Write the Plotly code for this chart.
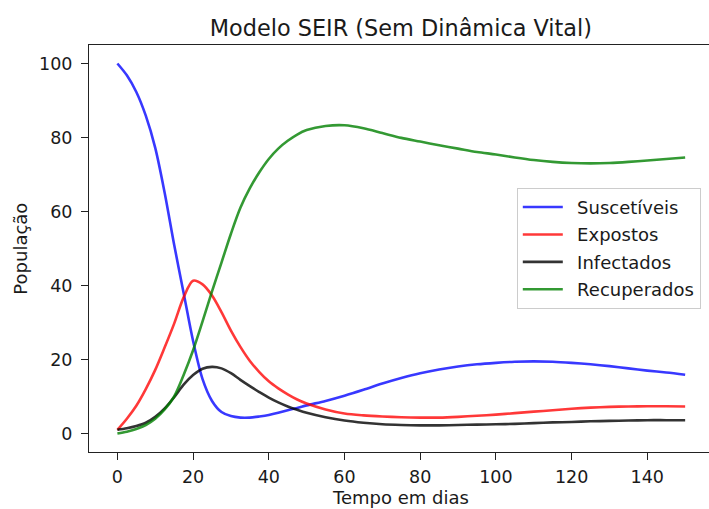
import plotly.graph_objects as go

# Data
dias = [0, 2.5, 5, 7.5, 10, 12.5, 15, 17.5, 20, 22.5, 25, 27.5, 30, 32.5, 35, 37.5, 40,
        42.5, 45, 47.5, 50, 55, 60, 65, 70, 75, 80, 85, 90, 95, 100, 105, 110, 115, 120,
        125, 130, 135, 140, 145, 150]

suscetiveis = [100, 96.8, 92.3, 85.9, 77.2, 65.0, 51.0, 38.0, 25.0, 14.7, 8.8, 5.8, 4.7, 4.3,
               4.3, 4.6, 5.0, 5.6, 6.3, 6.9, 7.6, 8.8, 10.2, 11.8, 13.5, 15.0, 16.3, 17.3,
               18.1, 18.7, 19.1, 19.4, 19.5, 19.4, 19.1, 18.7, 18.2, 17.6, 17.0, 16.5, 15.9]
expostos = [1, 4.0, 7.5, 12, 17.2, 23.3, 29.7, 36.8, 41.3, 40.3, 37.3, 32.8, 27.8, 23.4,
            19.6, 16.6, 14.1, 12.2, 10.6, 9.2, 8.1, 6.5, 5.4, 4.9, 4.6, 4.4, 4.3, 4.3, 4.5,
            4.8, 5.1, 5.5, 5.9, 6.3, 6.7, 7.0, 7.2, 7.3, 7.35, 7.35, 7.3]
infectados = [1, 1.4, 2.0, 2.9, 4.5, 6.8, 9.8, 13.2, 15.8, 17.5, 18.0, 17.6, 16.3, 14.5,
              12.8, 11.2, 9.7, 8.4, 7.3, 6.4, 5.6, 4.4, 3.5, 2.9, 2.5, 2.3, 2.2, 2.2, 2.3,
              2.4, 2.5, 2.6, 2.8, 3.0, 3.1, 3.3, 3.4, 3.5, 3.6, 3.6, 3.6]
recuperados = [0, 0.5, 1.2, 2.3, 4.0, 6.5, 10.0, 15.8, 22.5, 30.3, 38.4, 46.2, 54.0, 61.0,
               66.3, 70.6, 74.2, 77.0, 79.1, 80.8, 82.0, 83.1, 83.3, 82.5, 81.2, 79.9, 78.9,
               77.9, 77.0, 76.1, 75.4, 74.6, 73.9, 73.4, 73.1, 73.0, 73.1, 73.4, 73.8, 74.2,
               74.6]

nomes = ["Suscetíveis", "Expostos", "Infectados", "Recuperados"]
cores = ["rgba(0,0,255,0.78)", "rgba(255,0,0,0.78)", "rgba(0,0,0,0.8)", "rgba(0,128,0,0.8)"]
valores = [suscetiveis, expostos, infectados, recuperados]

fig = go.Figure()
for name, vals, color in zip(nomes, valores, cores):
    fig.add_trace(go.Scatter(
        x=dias, y=vals, mode="lines", name="\u00a0\u2009" + name, legendgroup=name,
        line=dict(color=color, width=2.6, shape="spline", smoothing=0.9),
    ))

FONT = "DejaVu Sans"
TXT = "#1a1a1a"
fig.update_layout(
    width=709, height=509,
    margin=dict(l=89, r=0, t=45, b=57),
    paper_bgcolor="white", plot_bgcolor="white",
    font=dict(family=FONT, size=18, color=TXT),
    title=dict(text="Modelo SEIR (Sem Dinâmica Vital)", x=0.503, xref="paper",
               xanchor="center", y=0.945, yref="container", yanchor="middle",
               font=dict(family=FONT, size=22.4, color=TXT)),
    showlegend=True,
    legend=dict(x=0.690, y=0.649, xanchor="left", yanchor="top",
                bgcolor="rgba(255,255,255,0.85)", bordercolor="#cccccc", borderwidth=1,
                font=dict(family=FONT, size=18, color=TXT), itemwidth=40,
                tracegroupgap=1),
    xaxis=dict(range=[-7.5, 156.3], tickvals=[0, 20, 40, 60, 80, 100, 120, 140],
               showgrid=False, zeroline=False, showline=True, linecolor="#222",
               linewidth=1.1, mirror=True, ticks="outside", ticklen=7, tickwidth=1.1,
               tickcolor="#222", tickfont=dict(size=17.5), ticklabelstandoff=2),
    yaxis=dict(range=[-5, 105], tickvals=[0, 20, 40, 60, 80, 100],
               showgrid=False, zeroline=False, showline=True, linecolor="#222",
               linewidth=1.1, mirror=False, ticks="outside", ticklen=7, tickwidth=1.1,
               tickcolor="#222", tickfont=dict(size=17.5), ticklabelstandoff=5),
    annotations=[
        dict(text="Tempo em dias", xref="paper", yref="paper", x=0.503, y=-0.1106,
             xanchor="center", yanchor="middle", showarrow=False,
             font=dict(family=FONT, size=18, color=TXT)),
        dict(text="População", xref="paper", yref="paper", x=-0.111, y=0.5,
             xanchor="center", yanchor="middle", showarrow=False, textangle=-90,
             font=dict(family=FONT, size=18, color=TXT)),
    ],
)

fig.write_html("out.html")
